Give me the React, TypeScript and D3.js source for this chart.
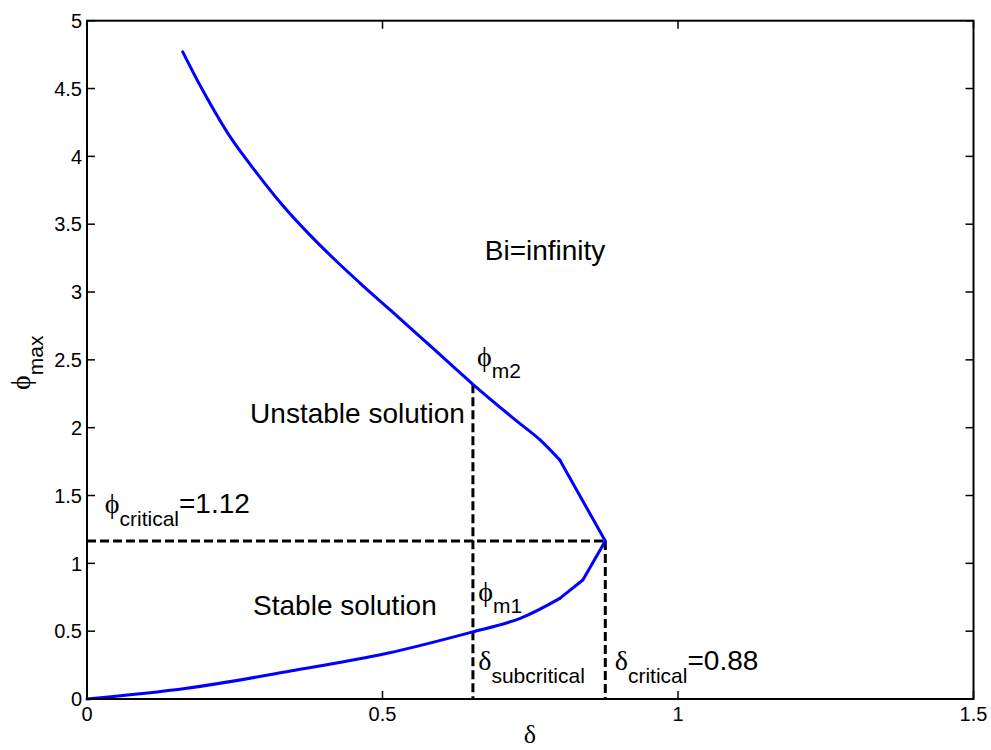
import React from "react";
import * as d3 from "d3";

// Lower (stable) branch: origin up to the turning point
const lowerDelta = [0, 0.169, 0.338, 0.508, 0.648, 0.733, 0.8];
const lowerPhi = [0, 0.079, 0.201, 0.337, 0.489, 0.595, 0.742];
// Segment around the turning point (straight pieces)
const tipDelta = [0.8, 0.839, 0.877, 0.8];
const tipPhi = [0.742, 0.877, 1.165, 1.761];
// Upper (unstable) branch: from 0.8 upward
const upperDelta = [0.8, 0.767, 0.721, 0.653, 0.58, 0.513, 0.467, 0.423, 0.377, 0.332, 0.288, 0.242, 0.196, 0.162];
const upperPhi = [1.761, 1.909, 2.071, 2.32, 2.606, 2.868, 3.046, 3.223, 3.421, 3.634, 3.873, 4.145, 4.485, 4.77];

const xTicks = [0, 0.5, 1, 1.5];
const yTicks = [0, 0.5, 1, 1.5, 2, 2.5, 3, 3.5, 4, 4.5, 5];
const xTickLabels = ["0", "0.5", "1", "1.5"];
const yTickLabels = ["0", "0.5", "1", "1.5", "2", "2.5", "3", "3.5", "4", "4.5", "5"];

const deltaCritical = 0.877;
const phiCritical = 1.165;
const deltaSub = 0.653;
const phiM2 = 2.32;

const W = 991;
const H = 750;
const X0 = 87;
const X1 = 973.5;
const Y0 = 699;
const Y1 = 20.7;

export default function App() {
  const x = d3.scaleLinear().domain([0, 1.5]).range([X0, X1]);
  const y = d3.scaleLinear().domain([0, 5]).range([Y0, Y1]);
  const zip = (a: number[], b: number[]) => a.map((d, i) => [d, b[i]] as [number, number]);
  const smooth = d3
    .line<[number, number]>()
    .x((d) => x(d[0]))
    .y((d) => y(d[1]))
    .curve(d3.curveCatmullRom.alpha(0.5));
  const straight = d3
    .line<[number, number]>()
    .x((d) => x(d[0]))
    .y((d) => y(d[1]));

  const sans = "Arial, 'Liberation Sans', Helvetica, sans-serif";
  const serif = "'Liberation Serif', 'DejaVu Serif', serif";
  const tickLen = 8;
  const dash = "9,4";

  return (
    <svg
      width={W}
      height={H}
      style={{ position: "absolute", left: 0, top: 0, background: "#fff" }}
    >
      <rect x={0} y={0} width={W} height={H} fill="#fff" />
      {/* dashed guides */}
      <g stroke="#000" strokeWidth={3} strokeDasharray={dash} fill="none">
        <line x1={x(0)} x2={x(deltaCritical)} y1={y(phiCritical)} y2={y(phiCritical)} />
        <line x1={x(deltaCritical)} x2={x(deltaCritical)} y1={y(phiCritical)} y2={y(0)} />
        <line x1={x(deltaSub)} x2={x(deltaSub)} y1={y(phiM2)} y2={y(0)} />
      </g>
      {/* curve */}
      <g fill="none" stroke="#0000ff" strokeWidth={3} strokeLinejoin="round" strokeLinecap="round">
        <path d={smooth(zip(lowerDelta, lowerPhi)) || ""} />
        <path d={straight(zip(tipDelta, tipPhi)) || ""} />
        <path d={smooth(zip(upperDelta, upperPhi)) || ""} />
      </g>
      {/* frame */}
      <rect x={X0} y={Y1} width={X1 - X0} height={Y0 - Y1} fill="none" stroke="#000" strokeWidth={2} />
      {/* ticks */}
      <g stroke="#000" strokeWidth={1.5}>
        {xTicks.map((t) => (
          <g key={"xt" + t}>
            <line x1={x(t)} x2={x(t)} y1={Y0} y2={Y0 - tickLen} />
            <line x1={x(t)} x2={x(t)} y1={Y1} y2={Y1 + tickLen} />
          </g>
        ))}
        {yTicks.map((t) => (
          <g key={"yt" + t}>
            <line x1={X0} x2={X0 + tickLen} y1={y(t)} y2={y(t)} />
            <line x1={X1} x2={X1 - tickLen} y1={y(t)} y2={y(t)} />
          </g>
        ))}
      </g>
      {/* tick labels */}
      <g fontFamily={sans} fontSize={20} fill="#000">
        {xTicks.map((t, i) => (
          <text key={"xl" + t} x={x(t)} y={Y0 + 22} textAnchor="middle">
            {xTickLabels[i]}
          </text>
        ))}
        {yTicks.map((t, i) => (
          <text key={"yl" + t} x={X0 - 5} y={y(t)} dy="0.36em" textAnchor="end">
            {yTickLabels[i]}
          </text>
        ))}
      </g>
      {/* axis labels */}
      <text x={530} y={743} textAnchor="middle" fontFamily={serif} fontSize={26}>
        δ
      </text>
      <text transform="translate(30,390) rotate(-90)" fontFamily={serif} fontSize={28}>
        ϕ
        <tspan fontFamily={sans} fontSize={21} dy={13}>
          max
        </tspan>
      </text>
      {/* annotations */}
      <g fontFamily={sans} fontSize={28} fill="#000">
        <text x={x(0.673)} y={y(3.235)}>Bi=infinity</text>
        <text x={x(0.276)} y={y(2.034)}>Unstable solution</text>
        <text x={x(0.281)} y={y(0.619)}>Stable solution</text>
        <text x={x(0.03)} y={y(1.371)}>
          <tspan fontFamily={serif}>ϕ</tspan>
          <tspan fontSize={21} dy={13}>critical</tspan>
          <tspan dy={-13}>=1.12</tspan>
        </text>
        <text x={x(0.66)} y={y(2.454)}>
          <tspan fontFamily={serif}>ϕ</tspan>
          <tspan fontSize={21} dy={12}>m2</tspan>
        </text>
        <text x={x(0.662)} y={y(0.722)}>
          <tspan fontFamily={serif}>ϕ</tspan>
          <tspan fontSize={21} dy={12}>m1</tspan>
        </text>
        <text x={x(0.662)} y={y(0.214)}>
          <tspan fontFamily={serif}>δ</tspan>
          <tspan fontSize={21} dy={13}>subcritical</tspan>
        </text>
        <text x={x(0.893)} y={y(0.214)}>
          <tspan fontFamily={serif}>δ</tspan>
          <tspan fontSize={21} dy={13}>critical</tspan>
          <tspan dy={-13}>=0.88</tspan>
        </text>
      </g>
    </svg>
  );
}
